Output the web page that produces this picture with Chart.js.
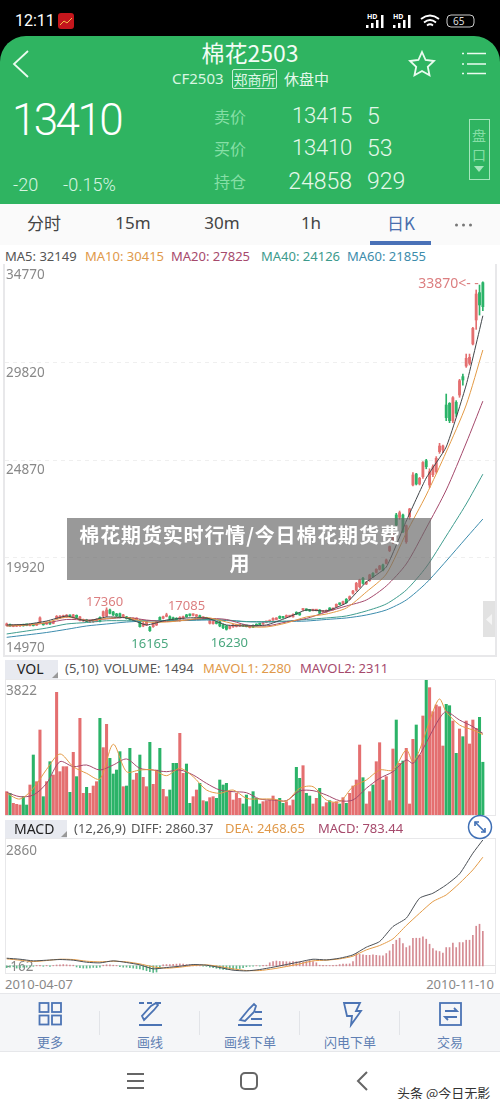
<!DOCTYPE html>
<html lang="zh">
<head>
<meta charset="utf-8">
<title>棉花2503</title>
<script src="https://cdn.jsdelivr.net/npm/chart.js@4/dist/chart.umd.min.js"></script>
<style>
html,body{margin:0;padding:0;background:#000;}
body{width:500px;height:1099px;position:relative;overflow:hidden;font-family:"Noto Sans","Noto Sans CJK SC",sans-serif;color:#444;}
.a{position:absolute;white-space:nowrap;line-height:1;}
.c{transform:translateX(-50%);}
.r{transform:translateX(-100%);}
.p{position:absolute;background:#fff;}
canvas{position:absolute;filter:blur(.3px);}
svg{position:absolute;}
#hdr{left:0;top:36px;width:500px;height:168px;background:#2fb461;border-radius:26px 26px 0 0;}
.w{color:#fff;}
.g{color:#86dfa6;font-family:"Noto Sans CJK SC";}
.num{color:#e4f8ea;font-family:Roboto;font-weight:300;}
.tab{top:214px;font-size:17px;color:#444;}
.leg{font-size:13px;}
.bl{position:absolute;background:#e8e8ea;}
.tool{top:1035px;font-size:13px;color:#5f7fb3;font-family:"Noto Sans CJK SC";}
.sep{position:absolute;top:1011px;width:1px;height:24px;background:#e2e4e8;}
</style>
</head>
<body>
<div class="p" style="left:0;top:204px;width:500px;height:895px;"></div>

<!-- status bar -->
<div class="a w" style="left:15px;top:13px;font-size:16px;font-family:Roboto;">12:11</div>
<svg style="left:58px;top:13px" width="16" height="16"><rect width="16" height="16" rx="3" fill="#c4161c"/><path d="M2 12l4-4 3 2 5-5" stroke="#f5c04a" fill="none"/></svg>
<svg style="left:365px;top:13px" width="110" height="17">
<g fill="#fff"><rect x="1" y="12" width="2.5" height="3"/><rect x="6" y="10" width="2.5" height="5"/><rect x="11" y="7" width="2.5" height="8"/><rect x="16" y="2" width="2.5" height="13"/>
<rect x="28" y="12" width="2.5" height="3"/><rect x="33" y="10" width="2.5" height="5"/><rect x="38" y="7" width="2.5" height="8"/><rect x="43" y="2" width="2.5" height="13"/></g>
<g fill="none" stroke="#fff" stroke-width="1.8"><path d="M56 6q9-7 18 0"/><path d="M59 9.500q6-5 12 0"/><path d="M62 12.500q3-2.500 6 0"/></g>
<rect x="82" y="2" width="27" height="12" rx="4" fill="none" stroke="#ccc"/></svg>
<div class="a" style="left:367px;top:13px;font-size:7px;font-weight:bold;color:#fff;">HD</div>
<div class="a" style="left:393px;top:13px;font-size:7px;font-weight:bold;color:#fff;">HD</div>
<div class="a" style="left:453px;top:15.500px;font-size:10px;color:#ddd;">65</div>

<!-- green header -->
<div class="p" id="hdr"></div>
<svg style="left:10px;top:48px" width="22" height="32"><path d="M18 3L4 16l14 13" fill="none" stroke="#eafbef" stroke-width="1.800"/></svg>
<svg style="left:408px;top:50px" width="28" height="28"><path d="M14 2l3.600 8 8.400 1-6.200 5.800 1.700 8.400L14 21l-7.500 4.200 1.700-8.400L2 11l8.400-1z" fill="none" stroke="#eafbef" stroke-width="1.800"/></svg>
<svg style="left:461px;top:50px" width="28" height="28"><g stroke="#eafbef" stroke-width="1.600"><path d="M6 3.500h19M6 14h19M6 23.500h19"/><path d="M1 3.500h2M1 14h2M1 23.500h2"/></g></svg>
<div class="a w c" style="left:250px;top:41px;font-size:23px;font-family:'Noto Sans CJK SC';color:#f2fcf5;">棉花2503</div>
<div class="a" style="left:172px;top:71px;font-size:15px;color:#d8f6e2;">CF2503</div>
<div class="a" style="left:232px;top:69px;width:43px;height:18px;border:1px solid #c8f0d6;border-radius:2px;font-size:14px;line-height:18px;text-align:center;color:#dcf7e5;font-family:'Noto Sans CJK SC';">郑商所</div>
<div class="a" style="left:284px;top:71px;font-size:15px;color:#e4f8ea;font-family:'Noto Sans CJK SC';">休盘中</div>
<div class="a num" style="left:12px;top:98px;font-size:44px;letter-spacing:-2.600px;color:#fff;">13410</div>
<div class="a num" style="left:13px;top:176px;font-size:18px;color:#d7f5e1;">-20</div>
<div class="a num" style="left:63px;top:176px;font-size:18px;color:#d7f5e1;">-0.15%</div>
<div class="a g" style="left:214px;top:108px;font-size:16px;">卖价</div>
<div class="a g" style="left:214px;top:140px;font-size:16px;">买价</div>
<div class="a g" style="left:214px;top:173px;font-size:16px;">持仓</div>
<div class="a num r" style="left:352px;top:105px;font-size:22px;letter-spacing:-.2px;">13415</div>
<div class="a num r" style="left:352px;top:137px;font-size:22px;letter-spacing:-.2px;">13410</div>
<div class="a num r" style="left:352px;top:170px;font-size:23px;">24858</div>
<div class="a num" style="left:367px;top:105px;font-size:23px;">5</div>
<div class="a num" style="left:367px;top:137px;font-size:23px;">53</div>
<div class="a num" style="left:367px;top:170px;font-size:23px;">929</div>
<div class="a" style="left:469px;top:119px;width:19px;height:59px;border:1px solid #a4e6bc;"></div>
<div class="a g c" style="left:479px;top:128px;font-size:14px;">盘</div>
<div class="a g c" style="left:479px;top:147px;font-size:14px;">口</div>
<svg style="left:473px;top:165px" width="12" height="8"><path d="M1 1h10L6 7z" fill="#a4e6bc"/></svg>

<!-- tabs -->
<div class="p" style="left:0;top:204px;width:500px;height:41px;background:#fafafa;"></div>
<div class="a tab c" style="left:44px;font-family:'Noto Sans CJK SC';">分时</div>
<div class="a tab c" style="left:133px;">15m</div>
<div class="a tab c" style="left:222px;">30m</div>
<div class="a tab c" style="left:311px;">1h</div>
<div class="a tab c" style="left:401px;color:#4a6fae;font-family:'Noto Sans CJK SC';">日K</div>
<svg style="left:454px;top:222px" width="20" height="6"><g fill="#777"><circle cx="2.500" cy="3" r="1.500"/><circle cx="9.500" cy="3" r="1.500"/><circle cx="16.500" cy="3" r="1.500"/></g></svg>
<div class="p" style="left:370px;top:241px;width:61px;height:4px;background:#4a72b8;"></div>

<!-- price legend -->
<div class="a leg" style="left:5px;top:250px;color:#555;">MA5: 32149</div>
<div class="a leg" style="left:85px;top:250px;color:#e0994a;">MA10: 30415</div>
<div class="a leg" style="left:171px;top:250px;color:#a64a6c;">MA20: 27825</div>
<div class="a leg" style="left:261px;top:250px;color:#3c9a8c;">MA40: 24126</div>
<div class="a leg" style="left:347px;top:250px;color:#3d8cab;">MA60: 21855</div>

<!-- pane frames -->
<div class="bl" style="left:3px;top:264px;width:2px;height:392px;"></div>
<div class="bl" style="left:495px;top:264px;width:2px;height:392px;"></div>
<div class="bl" style="left:3px;top:655px;width:494px;height:2px;"></div>
<div class="bl" style="left:5px;top:679px;width:490px;height:1px;"></div>
<div class="bl" style="left:5px;top:680px;width:1px;height:136px;"></div>
<div class="bl" style="left:495px;top:680px;width:1px;height:136px;"></div>
<div class="bl" style="left:5px;top:815px;width:490px;height:1px;"></div>
<div class="bl" style="left:5px;top:838px;width:490px;height:1px;"></div>
<div class="bl" style="left:5px;top:838px;width:1px;height:136px;"></div>
<div class="bl" style="left:495px;top:838px;width:1px;height:136px;"></div>
<div class="bl" style="left:5px;top:973px;width:490px;height:1px;"></div>

<canvas id="priceChart" width="490" height="391" style="left:5px;top:264px;"></canvas>
<canvas id="volChart" width="490" height="135" style="left:5px;top:680px;"></canvas>
<canvas id="macdChart" width="490" height="135" style="left:5px;top:838px;"></canvas>

<div class="p" style="left:483px;top:601px;width:12px;height:36px;background:#e2e2e2;"></div>
<svg style="left:485px;top:614px" width="8" height="11"><path d="M7 0v11L1 5.500z" fill="#f4f4f4"/></svg>

<!-- VOL header -->
<div class="p" style="left:5px;top:660px;width:53px;height:19px;background:#e8eaf0;"></div>
<svg style="left:52px;top:672px" width="6" height="6"><path d="M6 0v6H0z" fill="#999"/></svg>
<div class="a" style="left:17px;top:662px;font-size:14px;color:#222;">VOL</div>
<div class="a leg" style="left:65px;top:662px;color:#555;">(5,10)</div>
<div class="a leg" style="left:104px;top:662px;color:#555;">VOLUME: 1494</div>
<div class="a leg" style="left:203px;top:662px;color:#e0994a;">MAVOL1: 2280</div>
<div class="a leg" style="left:300px;top:662px;color:#a64a6c;">MAVOL2: 2311</div>

<!-- MACD header -->
<div class="p" style="left:5px;top:820px;width:62px;height:18px;background:#e8eaf0;"></div>
<svg style="left:61px;top:831px" width="6" height="6"><path d="M6 0v6H0z" fill="#999"/></svg>
<div class="a" style="left:14px;top:822px;font-size:14px;color:#222;">MACD</div>
<div class="a leg" style="left:74px;top:822px;color:#555;">(12,26,9)</div>
<div class="a leg" style="left:131px;top:822px;color:#555;">DIFF: 2860.37</div>
<div class="a leg" style="left:225px;top:822px;color:#e0994a;">DEA: 2468.65</div>
<div class="a leg" style="left:318px;top:822px;color:#a64a6c;">MACD: 783.44</div>
<svg style="left:467px;top:814px" width="26" height="26"><circle cx="13" cy="13" r="11.500" fill="#fff" stroke="#3f6fb5" stroke-width="1.500"/><g stroke="#3f6fb5" stroke-width="1.600" fill="none"><path d="M8 8l10 10"/><path d="M8 12V8h4M18 14v4h-4"/></g></svg>

<div class="a" style="left:5px;top:978px;font-size:13px;color:#888;">2010-04-07</div>
<div class="a r" style="left:494px;top:978px;font-size:13px;color:#888;">2010-11-10</div>

<!-- toolbar -->
<div class="p" style="left:0;top:993px;width:500px;height:59px;background:#f5f6f8;border-top:1px solid #e6e7ea;border-bottom:1px solid #e6e7ea;box-sizing:border-box;"></div>
<div class="sep" style="left:99px"></div><div class="sep" style="left:199px"></div><div class="sep" style="left:299px"></div><div class="sep" style="left:399px"></div>
<svg style="left:0;top:1000px" width="500" height="28"><g fill="none" stroke="#4c74b4" stroke-width="1.800">
<rect x="39.500" y="3" width="9" height="9"/><rect x="52" y="3" width="9" height="9"/><rect x="39.500" y="15.500" width="9" height="9"/><rect x="52" y="15.500" width="9" height="9"/>
<path d="M139 3h5M147 3h5M155 3h6M139 25h23M144 20l10-10 4-5-2-2-5 3-9 10z"/>
<path d="M238 25h24M240 20l9-11 5-5 2 2-2 6-9 9zM255 12h7M251 19h11"/>
<path d="M344 3h16l-4 8h5l-10 14 1-9h-5z"/>
<rect x="440" y="3" width="21" height="22"/><path d="M445 11h12l-3-3M457 17h-12l3 3"/>
</g></svg>
<div class="a tool c" style="left:50px;">更多</div>
<div class="a tool c" style="left:150px;">画线</div>
<div class="a tool c" style="left:250px;">画线下单</div>
<div class="a tool c" style="left:350px;">闪电下单</div>
<div class="a tool c" style="left:450px;">交易</div>

<!-- nav bar -->
<svg style="left:0;top:1068px" width="500" height="28"><g fill="none" stroke="#666" stroke-width="2">
<path d="M127 6h17M127 13h17M127 20h17"/><rect x="241" y="5" width="16" height="16" rx="4"/><path d="M367 4l-9 9 9 9"/></g></svg>
<div class="a" style="left:397px;top:1086px;font-size:13px;color:#333;font-family:'Noto Sans CJK SC';">头条 @今日无影</div>

<!-- overlay title -->
<div class="a" style="left:67px;top:518px;width:364px;height:62px;background:rgba(105,105,105,.68);box-sizing:border-box;padding-right:18px;padding-top:3px;text-align:center;color:#fff;font-weight:700;font-size:20px;line-height:28px;letter-spacing:.85px;font-family:'Noto Sans CJK SC';">棉花期货实时行情/今日棉花期货费<br>用</div>

<script>
// ---- candles (one per trading day) ----
const opens = [16470,16520,16420,16430,16440,16500,16510,16460,16530,16480,
16600,16560,16540,16640,16570,16830,16840,16880,16900,16980,
16880,16980,16720,16700,16750,16640,16650,16680,16870,16945,
16945,17250,17150,17050,17060,16910,16900,16850,16770,16760,
16710,16440,16490,16370,16405,16490,16875,16830,16930,16910,
16860,16830,16710,16810,17000,17020,16980,16930,16960,16830,
16850,16575,16560,16640,16660,16500,16440,16320,16400,16420,
16440,16490,16470,16360,16470,16530,16560,16540,16620,16660,
16740,16770,16930,16900,16880,16910,16900,17130,17090,17250,
17290,17260,17215,17215,17250,17150,17150,17350,17265,17420,
17585,17555,17790,17805,18095,18260,18430,18850,18565,18735,
19105,19155,19310,19530,19610,20255,20710,22060,21940,22060,
20710,21975,23580,24135,23630,24000,24810,23580,24100,24255,
25265,25350,27630,27715,26835,27765,28135,29065,29605,29740,
30720,31935,33320,33825];
const closes = [16530,16450,16460,16470,16480,16450,16470,16520,16460,16530,
16850,16500,16620,16540,16660,16925,16940,16960,16990,16920,
17000,16880,16900,16760,16680,16690,16720,16780,16680,17165,
17250,17080,17000,16950,16880,17000,16820,16760,16830,16840,
16405,16575,16660,16200,16570,16660,16710,16910,16990,16775,
16760,16750,16880,16910,16910,16970,17030,16990,16880,16880,
16790,16710,16660,16570,16440,16350,16270,16420,16490,16500,
16510,16440,16410,16400,16380,16450,16510,16590,16660,16720,
16830,16830,16830,16850,16970,16960,17030,17030,17000,17300,
17230,17200,17265,17265,17080,17200,17230,17250,17335,17535,
17535,17670,17620,17925,18210,18600,18770,18600,18650,19020,
18935,19310,19475,19275,19780,20455,21045,21555,22180,21215,
21520,22365,24085,23630,23915,24720,24505,24255,24500,24930,
25555,25555,26990,26835,28000,27210,28860,28895,29995,30045,
31510,33250,32695,32610];
const highs = [16590,16540,16480,16490,16500,16530,16530,16540,16550,16550,
16900,16590,16660,16670,16700,16970,16970,16990,17020,17000,
17030,17000,16930,16790,16780,16720,16750,16810,16900,17200,
17360,17290,17180,17080,17090,17030,16930,16880,16850,16860,
16760,16620,16690,16420,16610,16690,16900,16940,17085,16950,
16890,16860,16910,16940,17030,17050,17060,17020,16990,16900,
16880,16740,16690,16670,16690,16530,16470,16450,16520,16530,
16530,16510,16490,16420,16500,16550,16580,16610,16680,16740,
16850,16860,16950,16920,17000,16980,17060,17160,17120,17320,
17310,17280,17285,17280,17270,17220,17255,17370,17360,17560,
17610,17700,17830,17960,18250,18650,18810,18900,18700,19060,
19140,19340,19510,19580,19830,20490,21130,22145,22260,22110,
21555,22395,24205,24170,23965,24760,24880,24400,24600,25015,
25690,25605,28185,27750,28050,27850,28930,29200,30210,30210,
31565,33455,33705,33870];
const lows = [16440,16420,16400,16410,16420,16430,16450,16440,16440,16460,
16560,16480,16520,16520,16550,16800,16810,16850,16870,16900,
16850,16850,16690,16670,16650,16610,16620,16650,16650,16900,
16900,17050,16970,16920,16850,16880,16790,16730,16740,16730,
16380,16400,16460,16165,16370,16460,16680,16800,16900,16740,
16730,16720,16680,16780,16880,16940,16950,16900,16850,16800,
16760,16540,16530,16540,16400,16300,16230,16290,16370,16390,
16410,16420,16390,16340,16360,16430,16490,16520,16600,16640,
16720,16750,16810,16830,16860,16890,16880,17010,16980,17230,
17210,17180,17200,17200,17060,17130,17130,17230,17240,17390,
17510,17520,17590,17770,18050,18200,18380,18560,18530,18700,
18900,19120,19275,19225,19580,20205,20625,21505,21840,21165,
20625,21840,23530,23580,23580,23915,24400,23450,24000,24170,
25180,25215,26835,26735,26735,27040,28020,28640,29535,29655,
30670,31460,32185,32405];

// ---- moving averages, read at every sixth day ----
const maDays = [0,6,12,18,24,30,36,42,48,54,60,66,72,78,84,90,96,102,108,114,120,126,132,138,143];
const ma5  = [16490,16525,16690,16945,16690,16895,16845,16490,16740,16845,16845,16490,16440,16490,16845,17250,17200,17605,18665,19425,21755,23935,25505,28645,32149];
const ma10 = [16440,16490,16615,16895,16715,16820,16870,16640,16640,16740,16870,16640,16415,16390,16590,16895,17045,17350,18160,19070,21150,23070,25250,27630,30415];
const ma20 = [16440,16490,16590,16770,16740,16795,16870,16740,16665,16740,16820,16770,16490,16440,16640,16820,17150,17450,17755,18465,19580,21400,23325,25705,27825];
const ma40 = [16035,16185,16335,16540,16615,16705,16705,16705,16715,16740,16770,16740,16665,16665,16690,16770,16845,16945,17200,17555,18260,19425,20995,22615,24126];
const ma60 = [15865,15985,16110,16270,16440,16540,16640,16690,16705,16715,16740,16715,16655,16640,16665,16690,16770,16845,16995,17250,17755,18615,19730,20895,21855];

// ---- price axis and marked extremes ----
const priceTicks = [34770,29820,24870,19920];
const priceFloor = 14970;
const priceCeil = 34770;
const extremeDays = [143,30,43,48,66];
const extremeVals = [33870,17360,16165,17085,16230];
const extremeText = ["33870<- -","17360","16165","17085","16230"];

// ---- volume ----
const volumes = [661,614,330,302,283,519,283,850,1699,944,
2407,519,944,1510,1133,3474,1227,1369,1369,642,
1775,1086,2738,614,784,614,821,944,2738,1907,
2568,1605,1161,1274,1794,802,821,1888,991,1180,
1699,1067,802,2058,868,1274,1888,727,519,708,
1463,1463,2313,1180,1444,330,519,708,897,406,
378,491,519,472,991,850,897,661,425,614,
472,312,566,236,661,472,312,378,406,425,
538,425,472,330,378,264,425,1350,1038,1397,
614,538,312,472,755,236,349,406,349,378,
312,491,330,614,821,991,1982,1057,312,661,
850,1510,2048,991,1086,406,1869,2690,1463,1529,
1888,312,2143,2549,1699,2804,3823,3606,2926,3115,
3068,1954,3134,3096,2662,1746,2436,2218,2662,2011,
2690,2454,2766,1494];
const volTop = 3823;
const volTickVals = [3822];
const volDays = [0,4,8,12,16,20,24,28,32,36,40,44,48,52,56,60,64,68,72,76,80,84,88,92,96,100,104,108,112,116,120,122,124,128,130,132,136,140,143];
const mavol1 = [614,453,755,1293,1728,1369,1180,1020,2001,1227,1274,1274,1114,1322,1086,708,614,708,472,453,453,397,755,802,425,378,802,991,1274,1274,1841,1510,1841,2926,3285,2926,2549,2407,2280];
const mavol2 = [642,519,566,897,1510,1369,1416,1274,1416,1586,1322,1274,1227,1274,1133,897,708,661,632,453,425,406,680,689,566,406,425,755,1038,1227,1558,1463,1699,2407,2738,2926,2690,2502,2311];

// ---- MACD ----
const macdBars = [-40,-30,-20,-50,-40,-30,-30,-15,-10,10,10,-10,10,-10,10,
20,25,30,25,20,15,-25,-40,-50,-50,-45,-35,-40,-30,15,25,25,15,10,
-20,-30,-30,-40,-50,-60,-70,-90,-110,-130,-150,-140,-60,
25,30,30,35,40,45,40,30,25,15,10,8,-5,-10,
-30,-40,-55,-70,-80,-85,-85,-80,-70,-60,-40,-20,-10,-5,5,-5,10,15,
70,100,110,100,100,95,90,100,95,90,85,100,120,100,70,
15,10,10,8,10,15,30,40,40,45,100,
280,260,250,240,240,250,240,230,230,280,
341,492,583,628,507,416,454,628,628,628,659,606,492,394,341,326,288,416,416,515,416,530,530,583,583,696,901,946,783.44];
const macdDays = [0,4,8,12,16,20,24,28,32,36,40,44,48,52,56,60,64,68,72,76,80,84,88,92,96,100,104,108,112,116,120,124,128,132,136,140,143];
const diff = [174,151,114,129,144,129,83,68,114,76,23,-68,-38,-8,30,15,-38,-98,-114,-83,-30,30,91,151,136,174,250,424,553,893,1083,1537,1650,1840,2090,2559,2860.37];
const dea  = [159,129,98,121,151,144,106,91,106,91,45,-23,-53,-30,8,23,-15,-68,-106,-106,-68,-15,45,114,129,159,220,363,462,613,916,1196,1461,1612,1877,2180,2468.65];
const macdTopTick = 2860;
const macdLowTick = -162;
const macdCeil = 2905;

// ---- styling and helpers ----
const RED = "#e46f70", GREEN = "#2bb368";
const xMin = -0.5, xMax = 146.65;
const isUp = i => closes[i] >= opens[i];
const candleColors = opens.map((_, i) => isUp(i) ? RED : GREEN);
const pts = (days, vals) => days.map((d, i) => ({x: d, y: vals[i]}));
const line = (days, vals, color, tension) => ({type: "line", data: pts(days, vals), borderColor: color, borderWidth: 1, pointRadius: 0, tension: tension || 0.25, order: 1});
const tickFont = {family: "Noto Sans", size: 13.5};
const noPad = s => { s.paddingTop = s.paddingBottom = s.paddingLeft = s.paddingRight = 0; };

function fixedAxis(min, max, values, offset, gridColor) {
  return {
    type: "linear", position: "left", min, max, display: true, bounds: "data",
    afterBuildTicks: s => { s.ticks = values.map(v => ({value: v})); s.min = min; s.max = max; },
    afterFit: s => { s.width = 0; noPad(s); },
    ticks: {mirror: true, padding: 1, labelOffset: offset, color: "#888", font: tickFont, callback: v => String(v), autoSkip: false, maxRotation: 0},
    border: {display: false},
    grid: gridColor ? {color: gridColor, drawTicks: false} : {display: false, drawTicks: false}
  };
}
const xAxis = {type: "linear", min: xMin, max: xMax, display: false, offset: false, bounds: "data",
  afterBuildTicks: s => { s.min = xMin; s.max = xMax; },
  afterFit: noPad};
const baseOpts = {responsive: false, animation: false, events: [],
  layout: {padding: 0}, plugins: {legend: {display: false}, tooltip: {enabled: false}}};

const extremePlugin = {
  id: "extremes",
  afterDatasetsDraw(chart) {
    const {ctx, scales: {x, y}} = chart;
    const nudge = [[-4, 2, "right", "#dc7f80", 14], [-2, -6, "center", "#dc7f80", 13], [0, 12.5, "center", "#4ba87f", 13], [20, -7, "center", "#dc7f80", 13], [3, 13, "center", "#4ba87f", 13]];
    ctx.save();
    ctx.textBaseline = "middle";
    extremeText.forEach((t, k) => {
      const n = nudge[k];
      ctx.font = n[4] + "px 'Noto Sans'";
      ctx.fillStyle = n[3];
      ctx.textAlign = n[2];
      ctx.fillText(t, x.getPixelForValue(extremeDays[k]) + n[0], y.getPixelForValue(extremeVals[k]) + n[1]);
    });
    ctx.restore();
  }
};

const dashPlugin = {
  id: "dashGrid",
  beforeDatasetsDraw(chart) {
    const {ctx, chartArea: a, scales: {y}} = chart;
    ctx.save();
    ctx.strokeStyle = "#efefef";
    ctx.setLineDash([4, 4]);
    ctx.lineWidth = 1;
    priceTicks.slice(1).forEach(v => {
      const py = Math.round(y.getPixelForValue(v)) + 0.5;
      ctx.beginPath(); ctx.moveTo(a.left, py); ctx.lineTo(a.right, py); ctx.stroke();
    });
    ctx.restore();
  }
};

new Chart(document.getElementById("priceChart"), {
  type: "bar",
  data: {datasets: [
    {label: "MA5", ...line(maDays, ma5, "#3f4448", 0.15)},
    {label: "MA10", ...line(maDays, ma10, "#e39a45")},
    {label: "MA20", ...line(maDays, ma20, "#a4496c")},
    {label: "MA40", ...line(maDays, ma40, "#3f9c8e")},
    {label: "MA60", ...line(maDays, ma60, "#3c8cad")},
    {label: "body", data: opens.map((o, i) => ({x: i, y: [o, closes[i]]})), backgroundColor: candleColors, barThickness: 2.2, minBarLength: 1.5, grouped: false, order: 2},
    {label: "wick", data: highs.map((h, i) => ({x: i, y: [lows[i], h]})), backgroundColor: candleColors, barThickness: 1, grouped: false, order: 3}
  ]},
  options: {...baseOpts,
    scales: {x: xAxis,
      y: fixedAxis(priceFloor, priceCeil, priceTicks, 11),
      yBottom: fixedAxis(priceFloor, priceCeil, [priceFloor], -7)}},
  plugins: [dashPlugin, extremePlugin]
});

new Chart(document.getElementById("volChart"), {
  type: "bar",
  data: {datasets: [
    {label: "MAVOL1", ...line(volDays, mavol1, "#e39a45", 0.3)},
    {label: "MAVOL2", ...line(volDays, mavol2, "#a4496c", 0.3)},
    {label: "VOL", data: volumes.map((v, i) => ({x: i, y: v})), backgroundColor: candleColors, barThickness: 2.4, grouped: false, order: 2}
  ]},
  options: {...baseOpts, scales: {x: xAxis, y: fixedAxis(0, volTop, volTickVals, 11)}}
});

new Chart(document.getElementById("macdChart"), {
  type: "bar",
  data: {datasets: [
    {label: "DIFF", ...line(macdDays, diff, "#4a4f55", 0.2)},
    {label: "DEA", ...line(macdDays, dea, "#e39a45", 0.2)},
    {label: "MACD", data: macdBars.map((v, i) => ({x: i, y: [0, v]})), backgroundColor: macdBars.map(v => v >= 0 ? "#d58b93" : "#5db98b"), barThickness: 1, grouped: false, order: 2}
  ]},
  options: {...baseOpts, scales: {x: xAxis,
    y: fixedAxis(macdLowTick, macdCeil, [macdTopTick], 11),
    yLow: fixedAxis(macdLowTick, macdCeil, [macdLowTick], -6),
    yZero: {...fixedAxis(macdLowTick, macdCeil, [0], 0, "#e4e4e4"), ticks: {display: false}}}}
});
</script>
</body>
</html>
